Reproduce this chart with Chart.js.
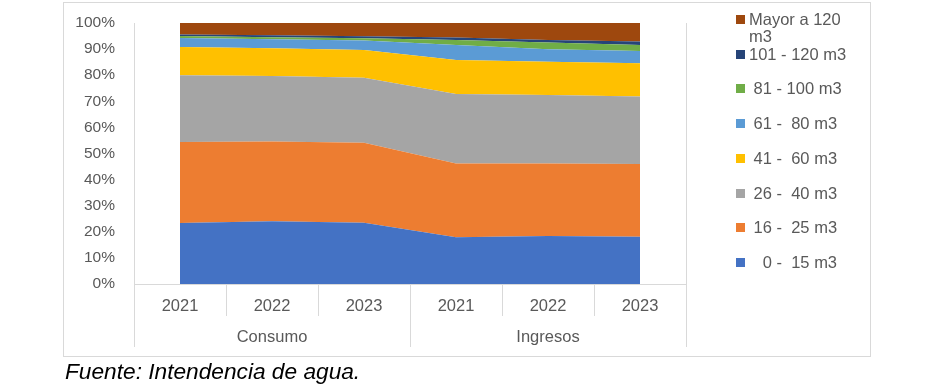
<!DOCTYPE html>
<html>
<head>
<meta charset="utf-8">
<script src="https://cdn.jsdelivr.net/npm/chart.js@4"></script>
<style>
  body { margin: 0; background: #fff; }
  #contenedor { position: relative; width: 935px; height: 386px; font-family: "Liberation Sans", Arial, sans-serif; }
  #marco { position: absolute; left: 63px; top: 2px; width: 806px; height: 353px; border: 1px solid #d9d9d9; }
  #grafica { position: absolute; left: 0; top: 0; }
  .item { position: absolute; left: 736px; }
  .caja { position: absolute; left: 0; width: 9px; height: 9px; }
  .texto { position: absolute; left: 13px; width: 110px; font-size: 16.5px; line-height: 17px; color: #595959; white-space: pre-wrap; }
  #fuente { position: absolute; left: 65px; top: 358px; font-style: italic; font-size: 22.7px; color: #000; }
</style>
</head>
<body>
<div id="contenedor">
  <div id="marco"></div>
  <canvas id="grafica" width="935" height="386"></canvas>
  <div id="leyenda"></div>
  <div id="fuente">Fuente: Intendencia de agua.</div>
</div>
<script>
const anios = ['2021', '2022', '2023', '2021', '2022', '2023'];
const grupos = ['Consumo', 'Ingresos'];

// porcentajes por tramo (Consumo 2021-2023, Ingresos 2021-2023)
const tramo_0_15 = [23.4, 24.0, 23.5, 17.9, 18.4, 18.1];
const tramo_16_25 = [31.0, 30.6, 30.6, 28.3, 27.8, 27.9];
const tramo_26_40 = [25.6, 25.1, 24.9, 26.6, 26.2, 25.8];
const tramo_41_60 = [10.8, 10.6, 10.7, 13.0, 12.8, 12.8];
const tramo_61_80 = [3.5, 3.5, 3.6, 5.8, 4.7, 4.7];
const tramo_81_100 = [0.7, 0.7, 0.9, 1.9, 2.6, 2.3];
const tramo_101_120 = [0.6, 0.8, 0.7, 0.9, 1.0, 1.3];
const tramo_mayor_120 = [4.4, 4.7, 5.1, 5.6, 6.5, 7.1];

const series = [
    { label: '   0 -  15 m3', data: tramo_0_15, color: '#4472C4' },
    { label: ' 16 -  25 m3', data: tramo_16_25, color: '#ED7D31' },
    { label: ' 26 -  40 m3', data: tramo_26_40, color: '#A5A5A5' },
    { label: ' 41 -  60 m3', data: tramo_41_60, color: '#FFC000' },
    { label: ' 61 -  80 m3', data: tramo_61_80, color: '#5B9BD5' },
    { label: ' 81 - 100 m3', data: tramo_81_100, color: '#70AD47' },
    { label: '101 - 120 m3', data: tramo_101_120, color: '#264478' },
    { label: 'Mayor a 120 m3', data: tramo_mayor_120, color: '#9E480E' }
];

// etiqueta de grupo en el año del medio de cada grupo
const etiquetasGrupo = anios.map((a, i) => (i % 3 === 1) ? grupos[Math.floor(i / 3)] : '');

const gris = '#d9d9d9';
const textoGris = '#595959';

const separadores = {
    id: 'separadores',
    afterDraw(chart) {
        const ctx = chart.ctx;
        const x = chart.scales.x;
        const x2 = chart.scales.x2;
        const n = x.ticks.length;
        const ancho = (x.right - x.left) / n;
        ctx.save();
        ctx.strokeStyle = gris;
        ctx.lineWidth = 1;
        for (let i = 0; i <= n; i++) {
            const px = Math.round(x.left + i * ancho) + 0.5;
            const arriba = (i === 0 || i === n) ? chart.chartArea.top : x.top;
            const abajo = (i % 3 === 0) ? x2.bottom : x.bottom;
            ctx.beginPath();
            ctx.moveTo(px, arriba);
            ctx.lineTo(px, abajo);
            ctx.stroke();
        }
        ctx.restore();
    }
};

const grafica = new Chart(document.getElementById('grafica'), {
    type: 'line',
    data: {
        labels: anios,
        datasets: series.map((s, i) => ({
            label: s.label,
            data: s.data,
            backgroundColor: s.color,
            borderColor: s.color,
            borderWidth: 0,
            pointRadius: 0,
            tension: 0,
            fill: i === 0 ? 'origin' : '-1'
        }))
    },
    options: {
        responsive: false,
        animation: false,
        layout: { padding: { left: 0, right: 249, top: 23, bottom: 39 } },
        plugins: {
            legend: { display: false },
            tooltip: { enabled: false }
        },
        scales: {
            x: {
                offset: true,
                grid: { display: false, drawTicks: false },
                border: { display: true, color: gris },
                ticks: {
                    color: textoGris,
                    padding: 13,
                    maxRotation: 0,
                    font: { family: 'Liberation Sans', size: 16.5 }
                },
                afterFit(scale) { scale.height = 32; }
            },
            x2: {
                type: 'category',
                position: 'bottom',
                labels: etiquetasGrupo,
                offset: true,
                grid: { display: false, drawTicks: false },
                border: { display: false },
                ticks: {
                    color: textoGris,
                    padding: 12,
                    maxRotation: 0,
                    autoSkip: false,
                    font: { family: 'Liberation Sans', size: 16.5 }
                },
                afterFit(scale) { scale.height = 31; }
            },
            y: {
                stacked: true,
                min: 0,
                max: 100,
                grid: { display: false, drawTicks: true, tickLength: 16 },
                border: { display: true, color: gris },
                ticks: {
                    stepSize: 10,
                    color: textoGris,
                    padding: 3,
                    font: { family: 'Liberation Sans', size: 15.5 },
                    callback: v => v + '%'
                },
                afterFit(scale) { scale.width = 134; }
            }
        }
    },
    plugins: [separadores]
});

// leyenda a la derecha, de arriba hacia abajo en orden inverso
const leyenda = document.getElementById('leyenda');
grafica.data.datasets.slice().reverse().forEach((ds, k) => {
    const centro = 19.3 + 34.75 * k;
    const item = document.createElement('div');
    item.className = 'item';
    item.style.top = (centro - 8.5) + 'px';
    const caja = document.createElement('div');
    caja.className = 'caja';
    caja.style.top = '4px';
    caja.style.background = ds.backgroundColor;
    const texto = document.createElement('div');
    texto.className = 'texto';
    texto.style.top = '0px';
    texto.textContent = ds.label;
    item.appendChild(caja);
    item.appendChild(texto);
    leyenda.appendChild(item);
});
</script>
</body>
</html>
